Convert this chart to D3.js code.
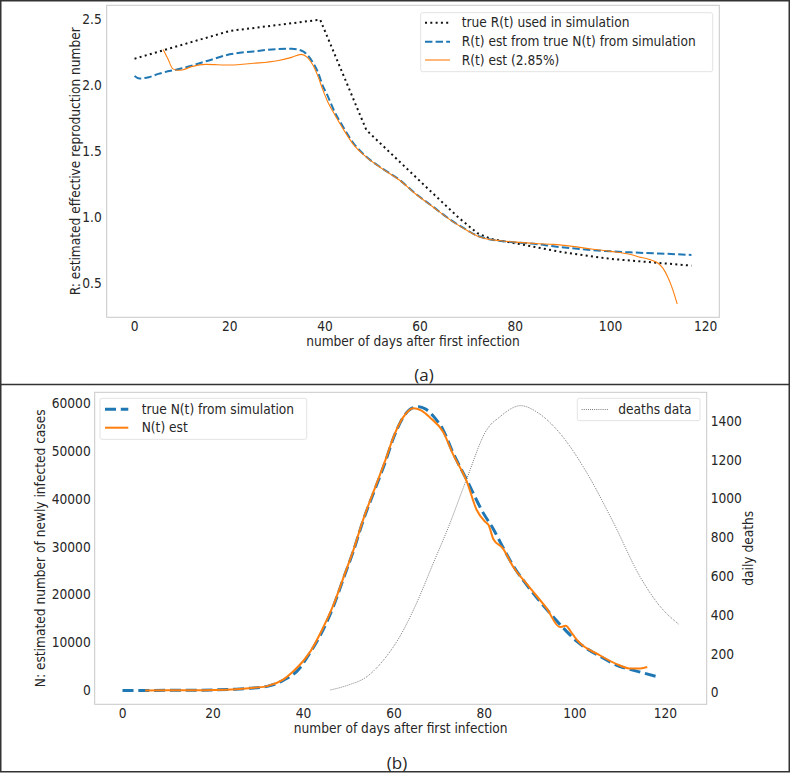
<!DOCTYPE html>
<html>
<head>
<meta charset="utf-8">
<script src="https://cdn.jsdelivr.net/npm/d3@7"></script>
<style>
  body { margin: 0; background: #fff; }
  svg text { font-family: "DejaVu Sans Condensed", "DejaVu Sans", sans-serif; font-stretch: condensed; fill: #262626; }
</style>
</head>
<body>
<svg class="svg" width="791" height="773"></svg>
<script>
// ---- panel (a): reproduction number ----
const trueR = [[0, 2.2], [20, 2.41], [39, 2.495], [48.7, 1.66], [55.7, 1.42],
  [62.7, 1.18], [68, 1.0], [72, 0.88], [75, 0.835], [80, 0.803], [90, 0.735], [100, 0.685],
  [110, 0.655], [117, 0.634]];

const estRTrueN = [[0, 2.069], [1, 2.05], [3, 2.06], [5, 2.085], [10, 2.127], [15, 2.18],
  [20, 2.233], [25, 2.255], [30, 2.273], [33, 2.275], [35, 2.262], [36, 2.24], [37.3, 2.18],
  [38.5, 2.1], [39.6, 1.99], [40.3, 1.94], [42, 1.8], [43.8, 1.685], [46, 1.56], [48.7, 1.458],
  [52, 1.37], [55.7, 1.282], [59, 1.18], [62.7, 1.08], [66, 0.99], [69.8, 0.904], [72, 0.86],
  [74, 0.838], [77, 0.82], [80, 0.81], [85, 0.795], [88, 0.78], [92, 0.765], [96, 0.752],
  [100, 0.742], [105, 0.733], [110, 0.726], [114, 0.72], [117, 0.715]];

const estR = [[6, 2.27], [7, 2.2], [8, 2.125], [9, 2.112], [10, 2.115], [12, 2.14], [15, 2.157],
  [20, 2.152], [25, 2.165], [30, 2.185], [33, 2.21], [35, 2.233], [36.3, 2.21], [37.5, 2.15],
  [38.5, 2.07], [39.6, 1.96], [40.5, 1.88], [42, 1.78], [43.8, 1.67], [46, 1.55], [48.7, 1.455],
  [52, 1.368], [55.7, 1.28], [59, 1.178], [62.7, 1.078], [66, 0.988], [69.8, 0.902], [72, 0.858],
  [74, 0.836], [77, 0.822], [80, 0.812], [85, 0.8], [88, 0.795], [92, 0.78], [96, 0.76],
  [100, 0.742], [104, 0.72], [106, 0.7], [108, 0.682], [110, 0.652], [111, 0.615], [112, 0.55],
  [113, 0.46], [114, 0.345]];

// ---- panel (b): newly infected cases and deaths ----
const trueN = [[0, 0], [5, 5], [10, 15], [15, 40], [20, 100], [25, 250], [28, 450], [32, 850],
  [35.5, 2100], [39.2, 4700], [41, 7200], [43.6, 11300], [46.6, 17500], [49, 23800], [51, 29000],
  [53.2, 35500], [56, 42500], [58, 47500], [60, 53000], [62, 57000], [64, 59000], [65.5, 59300],
  [67, 58800], [69, 57000], [70.9, 54400], [73, 49800], [76.1, 44000], [79.8, 37000], [82, 33700],
  [83.5, 31000], [86.4, 26000], [89.4, 22000], [93.8, 16900], [97.5, 13000], [100.4, 10300],
  [105.6, 7100], [110, 5000], [113, 4200], [118.5, 2800]];

const estN = [[5, 5], [10, 15], [15, 40], [20, 100], [25, 260], [28, 470], [32, 900], [35.5, 2250],
  [38, 4200], [40, 6200], [41.5, 8100], [43.6, 11700], [46.6, 17800], [49, 24000], [51, 29200],
  [53.2, 35700], [56, 42800], [58, 47800], [60, 53200], [62, 57000], [64.3, 58950], [66, 58500],
  [68, 57000], [70.9, 54000], [73, 49500], [76.1, 43700], [78.3, 37700], [80.1, 35300],
  [80.9, 34600], [82, 31600], [84, 29800], [86.4, 25800], [89.4, 22200], [93.8, 17100],
  [96.7, 13240], [98, 13500], [99.1, 12300], [100.4, 10600], [105.6, 7300], [110, 5200],
  [112, 4600], [114.5, 4600], [116, 4900]];

const deaths = [[46, 14], [50, 40], [54, 82], [57.7, 168], [61.3, 289], [65, 461], [68.7, 667],
  [72, 850], [76, 1096], [80.5, 1354], [83.5, 1423], [88, 1479], [92, 1440], [96.7, 1337],
  [102.7, 1131], [108.6, 873], [114.4, 598], [118.9, 443], [123, 352]];

const ticksA_x = [0, 20, 40, 60, 80, 100, 120];
const ticksA_y = [0.5, 1.0, 1.5, 2.0, 2.5];
const ticksB_x = [0, 20, 40, 60, 80, 100, 120];
const ticksB_yl = [0, 10000, 20000, 30000, 40000, 50000, 60000];
const ticksB_yr = [0, 200, 400, 600, 800, 1000, 1200, 1400];

const blue = '#1f77b4';
const orange = '#ff7f0e';
const spineColor = '#c8c8c8';
const fs = '13.6px';

const svg = d3.select('.svg');

// outer frame + divider
svg.append('rect')
  .attr('x', 0.75).attr('y', 0.75)
  .attr('width', 788.5).attr('height', 771)
  .attr('fill', 'none').attr('stroke', '#333').attr('stroke-width', 1.5);
svg.append('line')
  .attr('x1', 0).attr('x2', 790).attr('y1', 384.5).attr('y2', 384.5)
  .attr('stroke', '#333').attr('stroke-width', 1.5);

function drawFrame(g, x0, x1, y0, y1) {
  g.append('rect')
    .attr('x', x0).attr('y', y0)
    .attr('width', x1 - x0).attr('height', y1 - y0)
    .attr('fill', 'none').attr('stroke', spineColor).attr('stroke-width', 1);
}

function lineOf(x, y, curve) {
  return d3.line().x(d => x(d[0])).y(d => y(d[1])).curve(curve || d3.curveMonotoneX);
}

function legend(g, x, y, w, h, items, rowY) {
  g.append('rect')
    .attr('x', x).attr('y', y).attr('width', w).attr('height', h)
    .attr('rx', 2).attr('fill', '#fff').attr('fill-opacity', 0.8)
    .attr('stroke', '#e3e3e3').attr('stroke-width', 1);
  items.forEach((it, i) => {
    g.append('line')
      .attr('x1', it.hx0).attr('x2', it.hx1)
      .attr('y1', rowY[i]).attr('y2', rowY[i])
      .attr('stroke', it.color).attr('stroke-width', it.width)
      .attr('stroke-dasharray', it.dash || null);
    g.append('text')
      .attr('x', it.tx).attr('y', rowY[i])
      .attr('dy', '0.35em')
      .style('font-size', fs)
      .text(it.label);
  });
}

// ================= panel (a) =================
{
  const L = 106.7, R = 719.3, T = 5.3, B = 317.3;
  const x = d3.scaleLinear().domain([-5.85, 122.85]).range([L, R]);
  const y = d3.scaleLinear().domain([0.243, 2.604]).range([B, T]);
  const g = svg.append('g');

  drawFrame(g, L, R, T, B);

  g.selectAll('.xt').data(ticksA_x).join('text')
    .attr('x', d => x(d)).attr('y', 326.2).attr('dy', '0.35em')
    .attr('text-anchor', 'middle').style('font-size', fs)
    .text(d => d);
  g.selectAll('.yt').data(ticksA_y).join('text')
    .attr('x', L - 5).attr('y', d => y(d)).attr('dy', '0.35em')
    .attr('text-anchor', 'end').style('font-size', fs)
    .text(d => d.toFixed(1));

  g.append('text')
    .attr('x', (L + R) / 2).attr('y', 340.8).attr('dy', '0.35em')
    .attr('text-anchor', 'middle').style('font-size', fs)
    .text('number of days after first infection');
  g.append('text')
    .attr('transform', `translate(75,${(T + B) / 2}) rotate(-90)`)
    .attr('dy', '0.35em')
    .attr('text-anchor', 'middle').style('font-size', fs)
    .text('R: estimated effective reproduction number');

  g.append('path').datum(trueR)
    .attr('d', lineOf(x, y, d3.curveLinear)).attr('fill', 'none')
    .attr('stroke', '#111').attr('stroke-width', 2).attr('stroke-dasharray', '2,3.3');
  g.append('path').datum(estRTrueN)
    .attr('d', lineOf(x, y)).attr('fill', 'none')
    .attr('stroke', blue).attr('stroke-width', 2).attr('stroke-dasharray', '7.4,3.2');
  g.append('path').datum(estR)
    .attr('d', lineOf(x, y)).attr('fill', 'none')
    .attr('stroke', orange).attr('stroke-width', 1.1);

  legend(g, 420.7, 12.7, 292, 59, [
    { label: 'true R(t) used in simulation', color: '#111', width: 2, dash: '2,3.3', hx0: 425, hx1: 450, tx: 461.7 },
    { label: 'R(t) est from true N(t) from simulation', color: blue, width: 2, dash: '7.4,3.2', hx0: 425, hx1: 450, tx: 461.7 },
    { label: 'R(t) est (2.85%)', color: orange, width: 1.1, hx0: 425, hx1: 450, tx: 461.7 }
  ], [22.7, 41.7, 60]);

  g.append('text')
    .attr('x', 424).attr('y', 375).attr('dy', '0.35em')
    .attr('text-anchor', 'middle')
    .style('font-family', '"Open Sans", sans-serif').style('font-stretch', 'normal')
    .style('font-size', '17px')
    .text('(a)');
}

// ================= panel (b) =================
{
  const L = 94.7, R = 706.7, T = 392.3, B = 704.3;
  const x = d3.scaleLinear().domain([-6.15, 129.15]).range([L, R]);
  const yl = d3.scaleLinear().domain([-2900, 62300]).range([B, T]);
  const yr = d3.scaleLinear().domain([-60, 1548]).range([B, T]);
  const g = svg.append('g');

  drawFrame(g, L, R, T, B);

  g.selectAll('.xt').data(ticksB_x).join('text')
    .attr('x', d => x(d)).attr('y', 713).attr('dy', '0.35em')
    .attr('text-anchor', 'middle').style('font-size', fs)
    .text(d => d);
  g.selectAll('.ylt').data(ticksB_yl).join('text')
    .attr('x', L - 4).attr('y', d => yl(d)).attr('dy', '0.35em')
    .attr('text-anchor', 'end').style('font-size', fs)
    .text(d => d);
  g.selectAll('.yrt').data(ticksB_yr).join('text')
    .attr('x', R + 4).attr('y', d => yr(d)).attr('dy', '0.35em')
    .attr('text-anchor', 'start').style('font-size', fs)
    .text(d => d);

  g.append('text')
    .attr('x', (L + R) / 2).attr('y', 727.8).attr('dy', '0.35em')
    .attr('text-anchor', 'middle').style('font-size', fs)
    .text('number of days after first infection');
  g.append('text')
    .attr('transform', `translate(40,${(T + B) / 2}) rotate(-90)`)
    .attr('dy', '0.35em')
    .attr('text-anchor', 'middle').style('font-size', fs)
    .text('N: estimated number of newly infected cases');
  g.append('text')
    .attr('transform', `translate(748,${(T + B) / 2}) rotate(-90)`)
    .attr('dy', '0.35em')
    .attr('text-anchor', 'middle').style('font-size', fs)
    .text('daily deaths');

  g.append('path').datum(deaths)
    .attr('d', lineOf(x, yr)).attr('fill', 'none')
    .attr('stroke', '#333').attr('stroke-width', 0.8).attr('stroke-dasharray', '0.8,1.3');
  g.append('path').datum(trueN)
    .attr('d', lineOf(x, yl)).attr('fill', 'none')
    .attr('stroke', blue).attr('stroke-width', 3).attr('stroke-dasharray', '11,4.8');
  g.append('path').datum(estN)
    .attr('d', lineOf(x, yl)).attr('fill', 'none')
    .attr('stroke', orange).attr('stroke-width', 2);

  legend(g, 100, 398.3, 206.7, 41, [
    { label: 'true N(t) from simulation', color: blue, width: 3, dash: '11,4.8', hx0: 105, hx1: 128.3, tx: 141.7 },
    { label: 'N(t) est', color: orange, width: 2, hx0: 105, hx1: 128.3, tx: 141.7 }
  ], [409.3, 427.7]);
  legend(g, 577.3, 398.3, 122.7, 22.4, [
    { label: 'deaths data', color: '#333', width: 0.8, dash: '0.8,1.3', hx0: 581.7, hx1: 608.3, tx: 618.3 }
  ], [409.5]);

  g.append('text')
    .attr('x', 397).attr('y', 763).attr('dy', '0.35em')
    .attr('text-anchor', 'middle')
    .style('font-family', '"Open Sans", sans-serif').style('font-stretch', 'normal')
    .style('font-size', '17px')
    .text('(b)');
}
</script>
</body>
</html>
